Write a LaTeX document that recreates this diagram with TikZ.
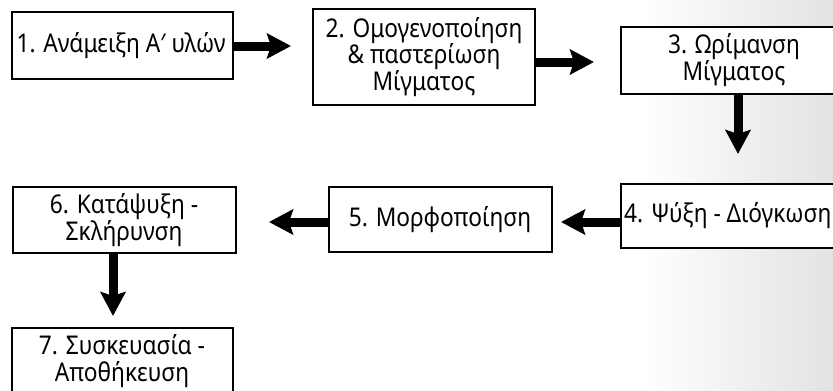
\documentclass[tikz,border=0pt]{standalone}
\usepackage{fontspec}
\setmainfont{Noto Sans}[FakeStretch=0.88]
\usetikzlibrary{arrows.meta}
\begin{document}
\begin{tikzpicture}[x=1pt,y=-1pt,
  stepbox/.style={draw=black,line width=2pt,fill=white},
  lbl/.style={font=\fontsize{25.8}{26.5}\selectfont,align=center,inner sep=0pt},
  flow/.style={line width=9pt,-{Stealth[length=24pt,width=25pt,inset=4pt]},shorten >=0pt}]
\useasboundingbox (0,0) rectangle (833,391);
\shade[left color=white,right color=black!11] (640,0) rectangle (833,391);
\fill[white] (0,0) rectangle (640,391);
% boxes
\draw[stepbox] (12,12) rectangle (233,79);
\node[lbl] (t1) at (121,46) {1. Ανάμειξη Α′ υλών};
\coordinate (b1r) at (233,46);
\draw[stepbox] (313,9) rectangle (535,105);
\node[lbl] (t2) at (424,57) {2. Ομογενοποίηση\\\& παστερίωση\\Μίγματος};
\coordinate (b2r) at (535,62);
\draw[stepbox] (621,27) rectangle (840,94);
\node[lbl] (t3) at (734,60) {3. Ωρίμανση\\Μίγματος};
\coordinate (b3b) at (738,94);
\draw[stepbox] (621,184) rectangle (840,248);
\node[lbl,anchor=west] (t4) at (624,216) {4. Ψύξη - Διόγκωση};
\coordinate (b4l) at (621,222);
\coordinate (b4t) at (738,184);
\draw[stepbox] (329,187) rectangle (552,252);
\node[lbl] (t5) at (440,220) {5. Μορφοποίηση};
\coordinate (b5l) at (329,222);
\coordinate (b5r) at (552,222);
\draw[stepbox] (13,187) rectangle (236,253);
\node[lbl] (t6) at (124,220) {6. Κατάψυξη -\\Σκλήρυνση};
\coordinate (b6b) at (113,253);
\draw[stepbox] (12,328) rectangle (233,400);
\node[lbl] (t7) at (122,361) {7. Συσκευασία -\\Αποθήκευση};
% arrows
\coordinate (a1) at (291,46);
\coordinate (a2) at (594,62);
\coordinate (a3) at (738,154);
\coordinate (a4) at (561,222);
\coordinate (a5) at (269,222);
\coordinate (a6) at (113,316);
\draw[flow] (b1r) -- (a1);
\draw[flow] (b2r) -- (a2);
\draw[flow] (b3b) -- (a3);
\draw[flow] (b4l) -- (a4);
\draw[flow] (b5l) -- (a5);
\draw[flow] (b6b) -- (a6);
\end{tikzpicture}
\end{document}
